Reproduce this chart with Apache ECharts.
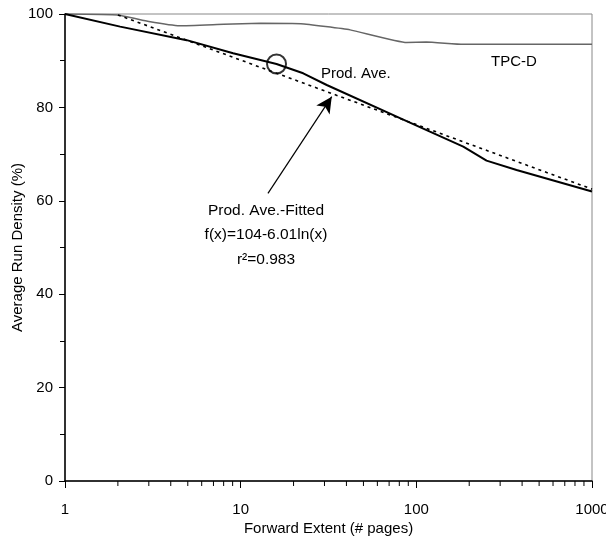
<!DOCTYPE html>
<html>
<head>
<meta charset="utf-8">
<style>
  html, body { margin: 0; padding: 0; background: #fff; }
  #chart { width: 606px; height: 540px; }
</style>
<script src="https://cdn.jsdelivr.net/npm/echarts@6/dist/echarts.min.js"></script>
</head>
<body>
<div id="chart"></div>
<script>
// Forward extent (pages) vs. average run density (%)
const prodAve = [
  [1, 100], [2.06, 97.3], [4.93, 94.4], [9.06, 91.6], [16, 89.3],
  [22.7, 87.3], [30.9, 84.8], [80.7, 77.7], [119.5, 74.8], [185, 71.6],
  [251, 68.6], [372, 66.6], [1000, 62.0]
];
const tpcD = [
  [1, 100], [2, 99.8], [3, 98.4], [4.5, 97.5], [8, 97.8], [13, 98.0],
  [22, 97.9], [42, 96.6], [88, 93.9], [114, 94.0], [184, 93.5], [1000, 93.5]
];
// f(x) = 104 - 6.01 ln(x), a straight line on the log axis: end points
const fitted = [[2, 99.8], [1000, 62.5]];
// highlighted point on the product average curve
const highlight = [[16, 89.3]];
// arrow from the fit caption to the fitted line
const arrowFrom = [14.3, 61.6];
const arrowTo = [33.0, 82.3];
// minor ticks of the log axis
const minorXTicks = [2, 3, 4, 5, 6, 7, 8, 9, 20, 30, 40, 50, 60, 70, 80, 90,
                     200, 300, 400, 500, 600, 700, 800, 900];

const FONT = "'Liberation Sans Narrow', 'Arial Narrow', 'Liberation Sans', Arial, sans-serif";
const FS = 15;

const chart = echarts.init(document.getElementById('chart'), null, { renderer: 'canvas' });

chart.setOption({
  animation: false,
  backgroundColor: '#fff',
  textStyle: { fontFamily: FONT },
  grid: {
    left: 65, right: 14, top: 14, bottom: 59,
    containLabel: false, outerBoundsMode: 'none',
    show: true, borderColor: '#888', borderWidth: 1
  },
  xAxis: {
    type: 'log', logBase: 10, min: 1, max: 1000,
    name: 'Forward Extent (# pages)', nameLocation: 'middle', nameGap: 40,
    nameMoveOverlap: false,
    nameTextStyle: { fontSize: FS, color: '#000', fontFamily: FONT },
    axisLine: { lineStyle: { color: '#000', width: 1.5 } },
    axisTick: { length: 7, lineStyle: { color: '#000' } },
    axisLabel: {
      fontSize: FS, color: '#000', margin: 21, fontFamily: FONT,
      showMinLabel: true, showMaxLabel: true,
      formatter: v => String(Math.round(v))
    },
    splitLine: { show: false }
  },
  yAxis: {
    type: 'value', min: 0, max: 100, interval: 20,
    name: 'Average Run Density (%)', nameLocation: 'middle', nameGap: 40,
    nameMoveOverlap: false,
    nameTextStyle: { fontSize: FS, color: '#000', fontFamily: FONT },
    axisLine: { show: true, lineStyle: { color: '#000', width: 1.5 } },
    axisTick: { show: true, length: 6, lineStyle: { color: '#000' } },
    minorTick: { show: true, splitNumber: 2, length: 5, lineStyle: { color: '#000' } },
    axisLabel: { fontSize: FS, color: '#000', margin: 12, fontFamily: FONT },
    splitLine: { show: false }
  },
  series: [
    {
      name: 'TPC-D', type: 'line', data: tpcD, symbol: 'none', smooth: 0.12,
      lineStyle: { color: '#666', width: 1.5 }, z: 2
    },
    {
      name: 'Prod. Ave.-Fitted', type: 'line', data: fitted, symbol: 'none',
      lineStyle: { color: '#000', width: 1.6, type: [3, 4] }, z: 3,
      markLine: {
        silent: true,
        symbol: ['none', 'arrow'],
        symbolSize: [12, 16],
        label: { show: false },
        lineStyle: { color: '#000', width: 1.2, type: 'solid' },
        data: [[{ coord: arrowFrom }, { coord: arrowTo }]]
      }
    },
    {
      name: 'Prod. Ave.', type: 'line', data: prodAve, symbol: 'none',
      lineStyle: { color: '#000', width: 2 }, z: 4
    },
    {
      type: 'scatter', data: highlight, symbol: 'circle', symbolSize: 19,
      itemStyle: { color: 'rgba(0,0,0,0)', borderColor: '#000', borderWidth: 2 }, z: 5
    },
    {
      type: 'custom', data: minorXTicks.map(v => [v, 0]), silent: true, clip: false,
      renderItem: function (params, api) {
        const p = api.coord([api.value(0), 0]);
        return {
          type: 'line',
          shape: { x1: p[0], y1: p[1], x2: p[0], y2: p[1] + 5 },
          style: { stroke: '#000', lineWidth: 1 }
        };
      }
    }
  ],
  graphic: [
    { type: 'text', left: 321, top: 66,
      style: { text: 'Prod. Ave.', font: FS + 'px ' + FONT, fill: '#000' } },
    { type: 'text', left: 491, top: 54,
      style: { text: 'TPC-D', font: FS + 'px ' + FONT, fill: '#000' } },
    { type: 'text', x: 266, y: 198,
      style: {
        text: 'Prod. Ave.-Fitted\nf(x)=104-6.01ln(x)\nr²=0.983',
        font: '15.5px ' + FONT, fill: '#000', align: 'center', lineHeight: 24.5
      } }
  ]
});
</script>
</body>
</html>
